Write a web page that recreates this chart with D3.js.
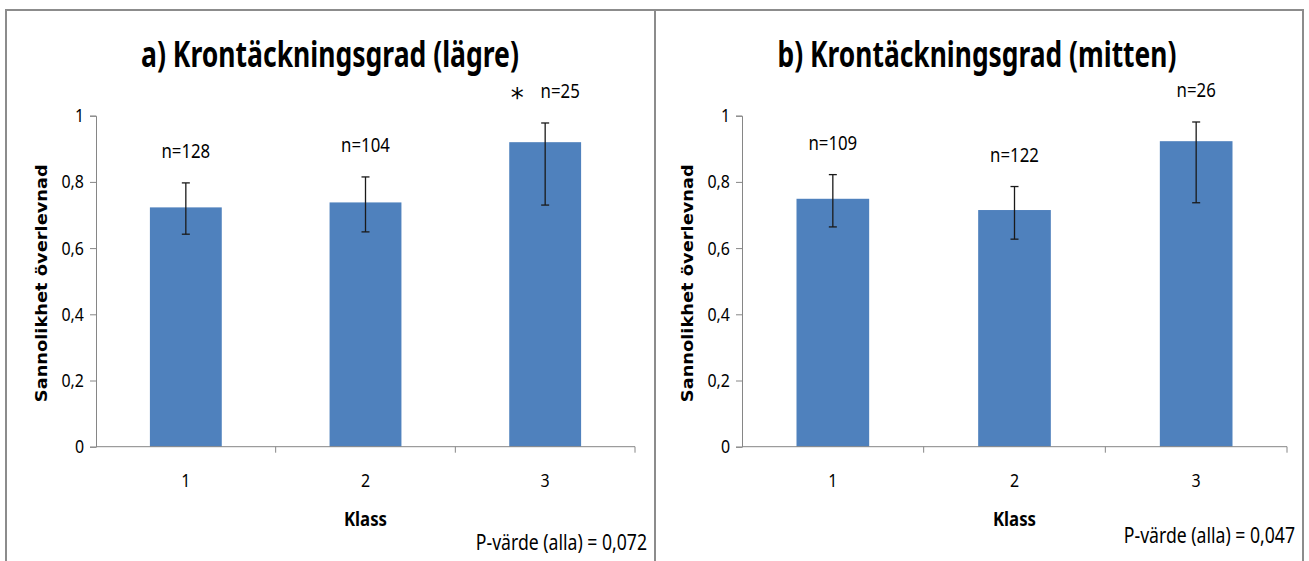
<!DOCTYPE html>
<html>
<head>
<meta charset="utf-8">
<script src="https://cdn.jsdelivr.net/npm/d3@7"></script>
<style>
  html, body { margin: 0; padding: 0; background: #fff; }
  svg { display: block; }
  .narrow { font-family: "Noto Sans", "Open Sans", sans-serif; }
</style>
</head>
<body>
<svg id="chart" width="1309" height="561"></svg>
<script>
// Survival probability per crown-cover class, two canopy layers
const classes = ["1", "2", "3"];

const lowerMean  = [0.723, 0.738, 0.920];
const lowerHigh  = [0.797, 0.815, 0.978];
const lowerLow   = [0.642, 0.649, 0.730];
const lowerN     = [128, 104, 25];
const lowerMark  = ["", "", "*"];

const middleMean = [0.749, 0.715, 0.923];
const middleHigh = [0.822, 0.786, 0.981];
const middleLow  = [0.664, 0.627, 0.737];
const middleN    = [109, 122, 26];
const middleMark = ["", "", ""];

const yTicks = [0, 0.2, 0.4, 0.6, 0.8, 1];

const panels = [
  { title: "a) Krontäckningsgrad (lägre)", p: "P-värde (alla) = 0,072",
    mean: lowerMean, high: lowerHigh, low: lowerLow, n: lowerN, mark: lowerMark,
    frame: [6, 655], axisX: [96, 635], titleX: 330, titleW: 378, pY: 550, yTitleX: 47 },
  { title: "b) Krontäckningsgrad (mitten)", p: "P-värde (alla) = 0,047",
    mean: middleMean, high: middleHigh, low: middleLow, n: middleN, mark: middleMark,
    frame: [655, 1303], axisX: [742, 1287], titleX: 977, titleW: 399, pY: 543, yTitleX: 693 }
];

const sv = d3.formatLocale({ decimal: ",", thousands: " ", grouping: [3], currency: ["", " kr"] });
const fmt = sv.format(".1~f");

const svg = d3.select("#chart");
const BAR = "#4F81BD", AXIS = "#868686", FRAME = "#8c8c8c";
const plotTop = 115.7, plotBase = 446.7;
const SQUEEZE = 0.84;

// Panel frames (open at the bottom edge)
svg.append("path")
  .attr("d", `M6,561 V10 H1303 V561 M655,10 V561`)
  .attr("fill", "none").attr("stroke", FRAME).attr("stroke-width", 2);

panels.forEach(P => {
  const g = svg.append("g");
  const x = d3.scaleBand().domain(classes).range(P.axisX)
    .paddingInner(0.6).paddingOuter(0.3);
  const y = d3.scaleLinear().domain([0, 1]).range([plotBase, plotTop]);

  // Title, narrowed to its set width
  const title = g.append("text").attr("class", "narrow")
    .attr("x", P.titleX).attr("y", 67)
    .attr("text-anchor", "middle")
    .attr("font-size", 36).attr("font-weight", "bold")
    .text(P.title);
  title.attr("data-k", P.titleW / title.node().getComputedTextLength());

  // Bars
  g.selectAll("rect.bar").data(classes).join("rect")
    .attr("class", "bar")
    .attr("x", d => x(d))
    .attr("width", x.bandwidth())
    .attr("y", (d, i) => y(P.mean[i]))
    .attr("height", (d, i) => y(0) - y(P.mean[i]))
    .attr("fill", BAR);

  // Error bars
  const cx = d => x(d) + x.bandwidth() / 2;
  const eb = g.selectAll("g.err").data(classes).join("g").attr("class", "err")
    .attr("stroke", "#1a1a1a").attr("stroke-width", 1.3);
  eb.append("line").attr("x1", cx).attr("x2", cx)
    .attr("y1", (d, i) => y(P.high[i])).attr("y2", (d, i) => y(P.low[i]));
  eb.append("line").attr("x1", d => cx(d) - 4).attr("x2", d => cx(d) + 4)
    .attr("y1", (d, i) => y(P.high[i])).attr("y2", (d, i) => y(P.high[i]));
  eb.append("line").attr("x1", d => cx(d) - 4).attr("x2", d => cx(d) + 4)
    .attr("y1", (d, i) => y(P.low[i])).attr("y2", (d, i) => y(P.low[i]));

  // Sample-size labels above each error bar
  g.selectAll("text.n").data(classes).join("text")
    .attr("class", "n narrow")
    .attr("x", (d, i) => cx(d) + (P.mark[i] ? 15 : 0))
    .attr("y", (d, i) => y(P.high[i]) - 25)
    .attr("text-anchor", "middle").attr("font-size", 20)
    .text((d, i) => "n=" + P.n[i]);
  g.selectAll("text.mark").data(classes.filter((d, i) => P.mark[i])).join("text")
    .attr("class", "mark")
    .attr("x", d => cx(d) - 28)
    .attr("y", d => y(P.high[classes.indexOf(d)]) - 16)
    .attr("text-anchor", "middle")
    .attr("font-family", "DejaVu Sans, sans-serif").attr("font-size", 26)
    .text(d => P.mark[classes.indexOf(d)]);

  // Y axis
  const ya = g.append("g").attr("transform", `translate(${P.axisX[0]},0)`)
    .call(d3.axisLeft(y).tickValues(yTicks).tickFormat(fmt).tickSize(6).tickPadding(6));
  ya.select(".domain").attr("stroke", AXIS);
  ya.selectAll(".tick line").attr("stroke", AXIS);
  ya.selectAll(".tick text").attr("class", "narrow").attr("font-size", 19).attr("fill", "#000");

  // X axis: labels centred on bars, ticks on category boundaries
  const xa = g.append("g").attr("transform", `translate(0,${plotBase})`)
    .call(d3.axisBottom(x).tickSize(0).tickPadding(27));
  xa.select(".domain").attr("stroke", AXIS).attr("d", `M${P.axisX[0]},0H${P.axisX[1]}`);
  xa.selectAll(".tick text").attr("class", "narrow").attr("font-size", 19).attr("fill", "#000");
  const bounds = classes.map((d, i) => x(d) - x.step() * x.paddingInner() / 2)
    .slice(1).concat([P.axisX[1]]);
  xa.selectAll("line.bound").data(bounds).join("line").attr("class", "bound")
    .attr("x1", d => d).attr("x2", d => d).attr("y1", 0).attr("y2", 6)
    .attr("stroke", AXIS);

  // Axis titles
  g.append("text").attr("class", "narrow")
    .attr("x", (P.axisX[0] + P.axisX[1]) / 2).attr("y", 526)
    .attr("text-anchor", "middle").attr("font-size", 20).attr("font-weight", "bold")
    .text("Klass");
  g.append("text")
    .attr("transform", `translate(${P.yTitleX},${(plotTop + plotBase) / 2 + 2}) rotate(-90)`)
    .attr("text-anchor", "middle")
    .attr("font-family", "DejaVu Sans, Verdana, sans-serif")
    .attr("font-size", 15.5).attr("font-weight", "bold")
    .attr("textLength", 238).attr("lengthAdjust", "spacingAndGlyphs")
    .text("Sannolikhet överlevnad");

  // P-value note
  g.append("text").attr("class", "narrow")
    .attr("x", P.frame[1] - 8).attr("y", P.pY)
    .attr("text-anchor", "end").attr("font-size", 21)
    .text(P.p);
});

// Condensed look for the text: scale each label horizontally about its anchor
svg.selectAll("text.narrow").each(function () {
  const t = d3.select(this);
  const k = t.attr("data-k") ? +t.attr("data-k") : SQUEEZE;
  const ax = +(t.attr("x") || 0);
  const prev = t.attr("transform") || "";
  t.attr("transform", `${prev} translate(${ax * (1 - k)},0) scale(${k},1)`);
});
</script>
</body>
</html>
